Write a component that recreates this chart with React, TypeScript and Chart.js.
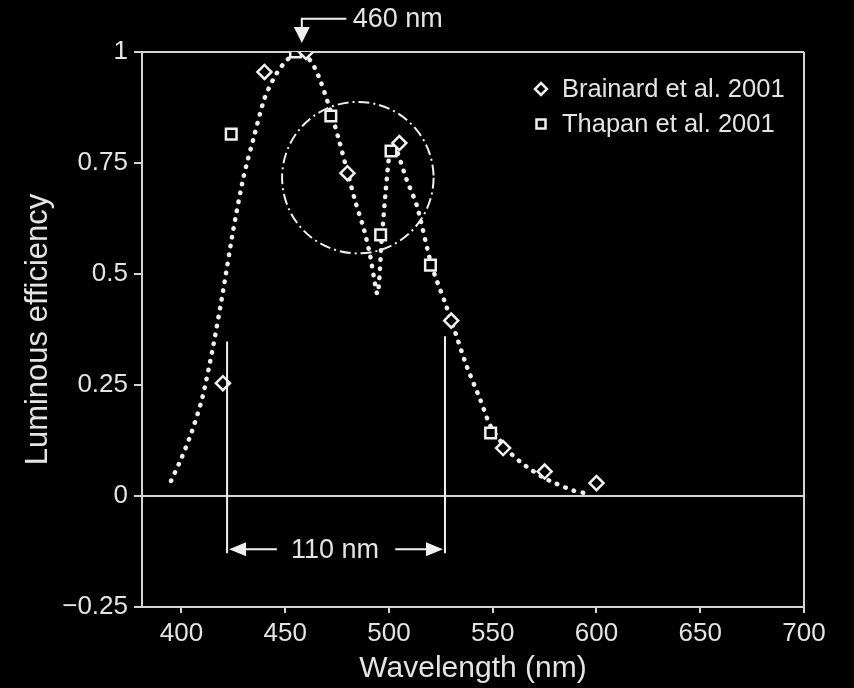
import React, { useEffect, useRef } from 'react';
import { Chart, registerables } from 'chart.js';

Chart.register(...registerables);

// ---- data ----
const xTicks = [400, 450, 500, 550, 600, 650, 700];
const yTicks = [-0.25, 0, 0.25, 0.5, 0.75, 1];
const yTickLabels = ['−0.25', '0', '0.25', '0.5', '0.75', '1'];

const brainardX = [420, 440, 460, 480, 505, 530, 555, 575, 600];
const brainardY = [0.254, 0.955, 1.0, 0.727, 0.795, 0.395, 0.108, 0.055, 0.029];

const thapanX = [424, 455, 472, 496, 501, 520, 549];
const thapanY = [0.815, 1.0, 0.856, 0.588, 0.777, 0.52, 0.142];

const curveX = [395, 400, 405, 410, 415, 420, 425, 430, 435, 440, 445, 450, 455, 458, 463, 467, 472, 476, 480, 484, 488, 491, 494.5, 496.5, 498.5, 500.5, 502, 504, 508.5, 513.5, 520.5, 527, 531, 537.5, 544, 549, 557, 563, 568.5, 575, 580, 589, 594];
const curveY = [0.034, 0.085, 0.145, 0.22, 0.33, 0.46, 0.6, 0.72, 0.81, 0.895, 0.945, 0.978, 0.997, 1.0, 0.975, 0.935, 0.865, 0.8, 0.73, 0.66, 0.6, 0.54, 0.455, 0.578, 0.69, 0.78, 0.79, 0.775, 0.713, 0.653, 0.52, 0.436, 0.382, 0.292, 0.217, 0.157, 0.104, 0.078, 0.059, 0.04, 0.029, 0.012, 0.007];

const seriesLabels = ['Brainard et al. 2001', 'Thapan et al. 2001'];

// annotation values (data units)
const peakLabel = '460 nm';
const peakArrowX = 458;
const peakTipY = 1.02;
const peakElbowY = 1.075;
const peakLineEndX = 479.5;
const peakLabelX = 482.5;

const bandLabel = '110 nm';
const bandLeftX = 422;
const bandRightX = 527;
const bandLeftTopY = 0.348;
const bandRightTopY = 0.36;
const bandBottomY = -0.129;
const bandArrowY = -0.12;
const bandLeftArrowEndX = 446;
const bandRightArrowStartX = 503;
const bandLabelX = 474;

const circleX = 485;
const circleY = 0.717;
const circleR = 36.5; // in nm

// ---- styles ----
const FONT = "'Liberation Sans', Arial, Helvetica, sans-serif";
const TEXT = '#e4e4e4';
const AXIS = '#d4d4d4';
const MARK = '#f0f0f0';

function arrowHead(ctx: CanvasRenderingContext2D, tx: number, ty: number, dx: number, dy: number, len: number, half: number) {
  const bx = tx - dx * len;
  const by = ty - dy * len;
  const px = -dy, py = dx;
  ctx.beginPath();
  ctx.moveTo(tx, ty);
  ctx.lineTo(bx + px * half, by + py * half);
  ctx.lineTo(bx - px * half, by - py * half);
  ctx.closePath();
  ctx.fill();
}

const annotationPlugin = {
  id: 'annotations',
  afterDraw(chart: any) {
    const { ctx, scales } = chart;
    const xs = scales.x, ys = scales.y;
    const X = (v: number) => xs.getPixelForValue(v);
    const Y = (v: number) => ys.getPixelForValue(v);
    ctx.save();
    ctx.strokeStyle = MARK;
    ctx.fillStyle = MARK;
    ctx.lineWidth = 2;

    // dash-dot circle
    const cx = X(circleX), cy = Y(circleY);
    const r = X(circleX + circleR) - cx;
    ctx.setLineDash([11, 4, 2, 4]);
    ctx.beginPath();
    ctx.arc(cx, cy, r, 0, Math.PI * 2);
    ctx.stroke();
    ctx.setLineDash([]);

    // 460 nm arrow
    const ax = X(peakArrowX), tipY = Y(peakTipY), elbowY = Y(peakElbowY);
    ctx.beginPath();
    ctx.moveTo(X(peakLineEndX), elbowY);
    ctx.lineTo(ax, elbowY);
    ctx.lineTo(ax, tipY - 10);
    ctx.stroke();
    arrowHead(ctx, ax, tipY, 0, 1, 16, 8);
    ctx.font = `27px ${FONT}`;
    ctx.fillStyle = TEXT;
    ctx.textAlign = 'left';
    ctx.textBaseline = 'middle';
    ctx.fillText(peakLabel, X(peakLabelX), elbowY + 1);

    // 110 nm band
    ctx.fillStyle = MARK;
    ctx.beginPath();
    ctx.moveTo(X(bandLeftX), Y(bandLeftTopY));
    ctx.lineTo(X(bandLeftX), Y(bandBottomY));
    ctx.moveTo(X(bandRightX), Y(bandRightTopY));
    ctx.lineTo(X(bandRightX), Y(bandBottomY));
    const ay = Y(bandArrowY);
    ctx.moveTo(X(bandLeftX) + 10, ay);
    ctx.lineTo(X(bandLeftArrowEndX), ay);
    ctx.moveTo(X(bandRightArrowStartX), ay);
    ctx.lineTo(X(bandRightX) - 10, ay);
    ctx.stroke();
    arrowHead(ctx, X(bandLeftX) + 2, ay, -1, 0, 17, 7);
    arrowHead(ctx, X(bandRightX) - 2, ay, 1, 0, 17, 7);
    ctx.fillStyle = TEXT;
    ctx.textAlign = 'center';
    ctx.font = `27px ${FONT}`;
    ctx.fillText(bandLabel, X(bandLabelX), ay + 1);

    // legend
    const items = chart.data.datasets.slice(0, 2);
    const lx = 541, ly0 = 89, lstep = 35;
    items.forEach((ds: any, i: number) => {
      const y = ly0 + i * lstep;
      ctx.strokeStyle = MARK;
      ctx.fillStyle = '#000';
      ctx.lineWidth = 2.5;
      ctx.beginPath();
      if (i === 0) {
        ctx.moveTo(lx, y - 6); ctx.lineTo(lx + 6, y); ctx.lineTo(lx, y + 6); ctx.lineTo(lx - 6, y); ctx.closePath();
      } else {
        ctx.rect(lx - 4.5, y - 4.5, 9, 9);
      }
      ctx.fill();
      ctx.stroke();
      ctx.fillStyle = TEXT;
      ctx.textAlign = 'left';
      ctx.textBaseline = 'middle';
      ctx.font = `25.5px ${FONT}`;
      ctx.fillText(ds.label, 562, y + 1);
    });
    ctx.restore();
  },
};

export default function App() {
  const ref = useRef<HTMLCanvasElement>(null);
  useEffect(() => {
    document.body.style.margin = '0';
    document.body.style.background = '#000';
    const canvas = ref.current!;
    const chart = new Chart(canvas, {
      type: 'scatter',
      data: {
        datasets: [
          {
            label: seriesLabels[0],
            data: brainardX.map((x, i) => ({ x, y: brainardY[i] })),
            pointStyle: 'rectRot',
            pointRadius: 7,
            borderColor: MARK,
            backgroundColor: '#000',
            borderWidth: 2.5,
            order: 1,
          },
          {
            label: seriesLabels[1],
            data: thapanX.map((x, i) => ({ x, y: thapanY[i] })),
            pointStyle: 'rect',
            pointRadius: 7.5,
            borderColor: MARK,
            backgroundColor: '#000',
            borderWidth: 2.5,
            order: 2,
          },
          {
            label: 'fit',
            type: 'line',
            data: curveX.map((x, i) => ({ x, y: curveY[i] })),
            showLine: true,
            borderColor: MARK,
            borderWidth: 4.5,
            borderDash: [0.5, 8.5],
            borderCapStyle: 'round',
            pointRadius: 0,
            tension: 0.25,
            fill: false,
            order: 3,
          } as any,
        ],
      },
      options: {
        responsive: false,
        animation: false,
        layout: { padding: { top: 52, right: 50, left: 0, bottom: 0 } },
        plugins: { legend: { display: false }, tooltip: { enabled: false } },
        scales: {
          x: {
            type: 'linear',
            min: 381,
            max: 700,
            afterBuildTicks: (s: any) => { s.ticks = xTicks.map((v) => ({ value: v })); },
            afterFit: (s: any) => { s.height = 81; },
            ticks: { color: TEXT, font: { family: FONT, size: 26 }, padding: 5, maxRotation: 0, autoSkip: false },
            grid: {
              color: (c: any) => (c.tick && c.tick.value === 700 ? AXIS : 'transparent'),
              tickColor: AXIS,
              tickLength: 6,
              lineWidth: 2,
            },
            border: { color: AXIS, width: 2 },
            title: { display: true, text: 'Wavelength (nm)', color: TEXT, font: { family: FONT, size: 30 }, padding: { top: 0, bottom: 1 } },
          },
          y: {
            type: 'linear',
            min: -0.25,
            max: 1,
            afterBuildTicks: (s: any) => { s.ticks = yTicks.map((v) => ({ value: v })); },
            afterFit: (s: any) => { s.width = 142; },
            ticks: {
              color: TEXT,
              font: { family: FONT, size: 26 },
              padding: 6,
              autoSkip: false,
              callback: (v: any) => { const i = yTicks.indexOf(Number(v)); return i >= 0 ? yTickLabels[i] : ''; },
            },
            grid: {
              color: (c: any) => (c.tick && (c.tick.value === 0 || c.tick.value === 1) ? AXIS : 'transparent'),
              tickColor: AXIS,
              tickLength: 8,
              lineWidth: 2,
            },
            border: { color: AXIS, width: 2 },
            title: { display: true, text: 'Luminous efficiency', color: TEXT, font: { family: FONT, size: 31 }, padding: { top: 20, bottom: 0 } },
          },
        },
      },
      plugins: [annotationPlugin],
    });
    return () => chart.destroy();
  }, []);
  return <canvas ref={ref} width={854} height={688} style={{ display: 'block', background: '#000' }} />;
}
